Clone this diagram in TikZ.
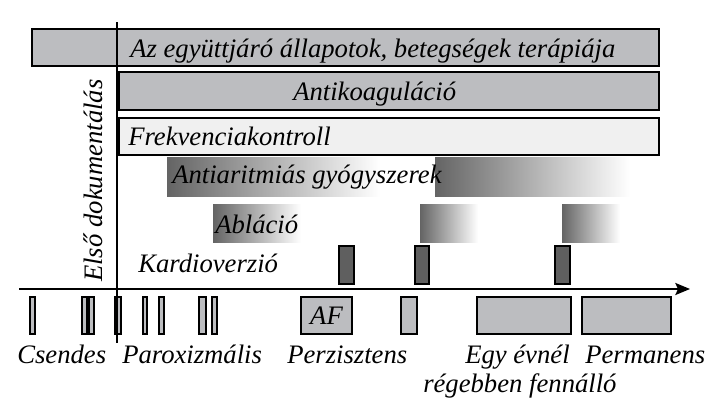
\documentclass[tikz,border=0pt]{standalone}
\usepackage{fontspec}
\setmainfont{Liberation Serif}
\usepackage{tikz}
\usetikzlibrary{arrows.meta}

\definecolor{boxgray}{RGB}{188,189,192}
\definecolor{cvgray}{RGB}{95,95,95}
\definecolor{lightbox}{RGB}{240,240,240}
\definecolor{shadegray}{RGB}{100,100,100}

\begin{document}
\begin{tikzpicture}[x=0.75pt,y=0.75pt,yscale=-1,xscale=1,
  lbl/.style={inner sep=0pt,font=\fontsize{20}{23}\selectfont\itshape},
  frame/.style={draw=black,line width=1.5pt},
  bar/.style={draw=black,line width=1.1pt,fill=boxgray},
  cvbar/.style={draw=black,line width=1.1pt,fill=cvgray},
  fade/.style={left color=shadegray,right color=white,draw=none}]
\useasboundingbox (0,0) rectangle (720,407);

%Shape: Rectangle [therapy rows]
\draw [frame,fill=boxgray] (32,29) rectangle (659,66) ;
\draw [frame,fill=boxgray] (119,72) rectangle (659,110) ;
\draw [frame,fill=lightbox] (119,118) rectangle (659,155) ;

%Shape: Shading [antiarrhythmic drugs]
\shade [fade] (167,157) rectangle (380,196) ;
\shade [fade] (435,157) rectangle (630,196) ;
%Shape: Shading [ablation]
\shade [fade] (213,204) rectangle (301,242) ;
\shade [fade] (420,204) rectangle (478,242) ;
\shade [fade] (562,204) rectangle (620,242) ;

%Shape: Rectangle [cardioversion]
\foreach \xa/\xb in {339/354,415/429,555/570}
  \draw [cvbar] (\xa,246) rectangle (\xb,284) ;

%Shape: Rectangle [episodes]
\foreach \xa/\xb in {30/35,82/87,89/94,115/121,143/147,159/164,199/206,212/217,401/417,477/571,582/671}
  \draw [bar] (\xa,297) rectangle (\xb,334) ;
\draw [bar] (301,297) rectangle (352,334) ;

%Straight Lines [time axis]
\coordinate (axstart) at (19,289) ;
\coordinate (axend) at (690,289) ;
\draw [line width=1.5pt,-{Stealth[length=11pt,width=9pt,inset=2pt]}] (axstart) -- (axend) ;
%Straight Lines [first documentation]
\coordinate (doctop) at (117,22) ;
\coordinate (docbot) at (117,343) ;
\draw [line width=1.5pt] (doctop) -- (docbot) ;

% Text Node
\node [lbl,anchor=base west] (comorb) at (130,57) {Az együttjáró állapotok, betegségek terápiája};
% Text Node
\node [lbl,anchor=base west] (anticoag) at (293,100) {Antikoaguláció};
% Text Node
\node [lbl,anchor=base west] (ratectrl) at (128,145) {Frekvenciakontroll};
% Text Node
\node [lbl,anchor=base west] (aad) at (172,183) {Antiaritmiás gyógyszerek};
% Text Node
\node [lbl,anchor=base west] (abl) at (215,233) {Abláció};
% Text Node
\node [lbl,anchor=base west] (cardiov) at (138,272) {Kardioverzió};
% Text Node
\node [lbl,anchor=base west,rotate=90] (firstdoc) at (102,282) {Első dokumentálás};
% Text Node
\node [lbl] (af) at (326.5,315.5) {AF};
% Text Node
\node [lbl,anchor=base west] (silent) at (17,363) {Csendes};
% Text Node
\node [lbl,anchor=base west] (parox) at (122,363) {Paroxizmális};
% Text Node
\node [lbl,anchor=base west] (pers) at (287,363) {Perzisztens};
% Text Node
\node [lbl,anchor=base west] (longst) at (465,363) {Egy évnél};
% Text Node
\node [lbl,anchor=base west] (perm) at (585,363) {Permanens};
% Text Node
\node [lbl,anchor=base west] (longst2) at (423,392) {régebben fennálló};

\end{tikzpicture}
\end{document}
